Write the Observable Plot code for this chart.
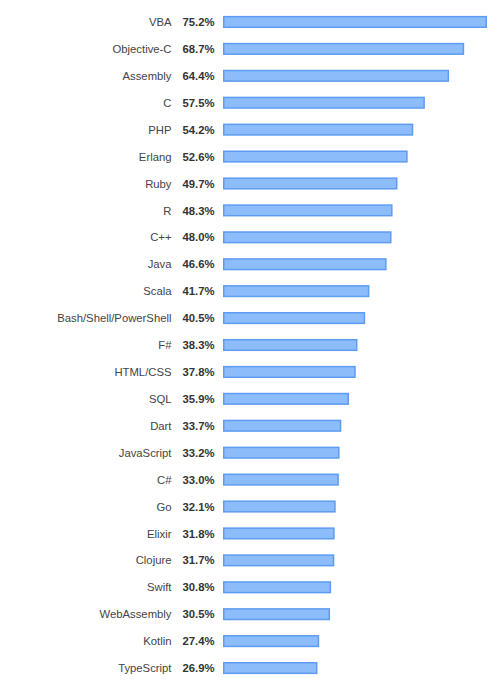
<!DOCTYPE html>
<html>
<head>
<meta charset="utf-8">
<script src="https://cdn.jsdelivr.net/npm/d3@7"></script>
<script src="https://cdn.jsdelivr.net/npm/@observablehq/plot@0.6"></script>
<style>
  body { margin: 0; background: #fff; }
</style>
</head>
<body>
<div id="chart"></div>
<script>
// Languages and their share (percent), top to bottom as in the picture
const languages = [
  'VBA', 'Objective-C', 'Assembly', 'C', 'PHP', 'Erlang', 'Ruby', 'R', 'C++', 'Java',
  'Scala', 'Bash/Shell/PowerShell', 'F#', 'HTML/CSS', 'SQL', 'Dart', 'JavaScript', 'C#',
  'Go', 'Elixir', 'Clojure', 'Swift', 'WebAssembly', 'Kotlin', 'TypeScript'
];
const shares = [
  75.2, 68.7, 64.4, 57.5, 54.2, 52.6, 49.7, 48.3, 48.0, 46.6,
  41.7, 40.5, 38.3, 37.8, 35.9, 33.7, 33.2, 33.0,
  32.1, 31.8, 31.7, 30.8, 30.5, 27.4, 26.9
];

const data = languages.map((name, i) => ({ name, value: shares[i] }));

const chart = Plot.plot({
  width: 500,
  height: 686,
  marginLeft: 223,
  marginRight: 13,
  marginTop: 0,
  marginBottom: 0,
  style: { fontFamily: '"Liberation Sans", Arial, sans-serif', background: '#fff' },
  x: { domain: [0, 75.2], axis: null },
  y: {
    domain: languages,
    range: [8.5, 681.5],
    paddingInner: 0.55,
    paddingOuter: 0.275,
    round: false,
    axis: null
  },
  marks: [
    Plot.barX(data, {
      x: 'value',
      y: 'name',
      fill: '#8cbcfa',
      stroke: '#5d9cf0',
      strokeWidth: 1.5,
      inset: 0.75
    }),
    Plot.text(data, {
      y: 'name',
      text: 'name',
      frameAnchor: 'left',
      textAnchor: 'end',
      dx: -52,
      fontSize: 11.3,
      fill: '#444'
    }),
    Plot.text(data, {
      y: 'name',
      text: d => d.value.toFixed(1) + '%',
      frameAnchor: 'left',
      textAnchor: 'end',
      dx: -9,
      fontSize: 11.3,
      fontWeight: 'bold',
      fill: '#333'
    })
  ]
});

document.getElementById('chart').append(chart);
</script>
</body>
</html>
